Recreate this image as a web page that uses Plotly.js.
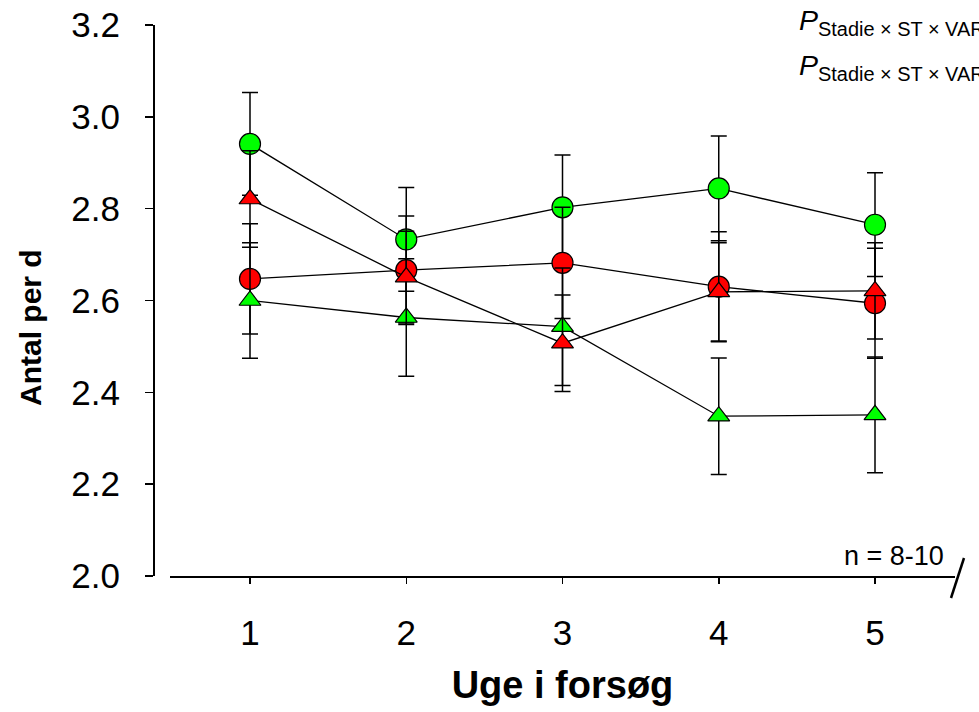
<!DOCTYPE html>
<html>
<head>
<meta charset="utf-8">
<script src="https://cdn.plot.ly/plotly-3.0.1.min.js"></script>
<style>html,body{margin:0;padding:0;background:#fff;}#chart{width:979px;height:712px;}</style>
</head>
<body>
<div id="chart"></div>
<script>
// ---- data ----
const weeks = [1, 2, 3, 4, 5];
const tickLabelsX = ["1", "2", "3", "4", "5"];
const tickValsY = [2.0, 2.2, 2.4, 2.6, 2.8, 3.0, 3.2];
const tickLabelsY = ["2.0", "2.2", "2.4", "2.6", "2.8", "3.0", "3.2"];

const greenCircle = [2.941, 2.733, 2.803, 2.844, 2.765];
const greenCircleErr = [0.112, 0.113, 0.114, 0.114, 0.113];
const redCircle = [2.647, 2.666, 2.682, 2.630, 2.594];
const redCircleErr = [0.120, 0.118, 0.121, 0.120, 0.120];
const greenTriangle = [2.600, 2.563, 2.543, 2.348, 2.351];
const greenTriangleErr = [0.126, 0.128, 0.128, 0.127, 0.126];
const redTriangle = [2.821, 2.651, 2.507, 2.619, 2.621];
const redTriangleErr = [0.105, 0.100, 0.105, 0.107, 0.105];

const FONT = "Arial, 'Liberation Sans', Helvetica, sans-serif";

function series(y, err, color, symbol, size) {
  return {
    x: weeks, y: y, type: "scatter", mode: "lines+markers",
    line: {color: "#000", width: 1.3},
    marker: {color: color, symbol: symbol, size: size, line: {color: "#000", width: 1.2}},
    error_y: {type: "data", array: err, visible: true, color: "#000", thickness: 1.5, width: 8},
    showlegend: false, hoverinfo: "x+y"
  };
}

const data = [
  series(greenCircle, greenCircleErr, "#00ff00", "circle", 21),
  series(redCircle, redCircleErr, "#ff0000", "circle", 21),
  series(greenTriangle, greenTriangleErr, "#00ff00", "triangle-up", 19),
  series(redTriangle, redTriangleErr, "#ff0000", "triangle-up", 19)
];

// pixel helpers for annotations / decorations (plot paper: x 154..955, y 25..576)
const PL = 154, PR = 955, PT = 25, PB = 576;
const px = X => (X - PL) / (PR - PL);
const py = Y => (PB - Y) / (PB - PT);

const layout = {
  width: 979, height: 712,
  margin: {l: PL, r: 979 - PR, t: PT, b: 712 - PB, pad: 0},
  paper_bgcolor: "#fff", plot_bgcolor: "#fff",
  font: {family: FONT, color: "#000"},
  xaxis: {
    domain: [16 / (PR - PL), 1],
    range: [1 - 80 / 156.25, 5 + 80 / 156.25],
    tickvals: weeks, ticktext: tickLabelsX,
    ticks: "outside", ticklen: 6, tickwidth: 1.5, tickcolor: "#000",
    ticklabelstandoff: 19,
    tickfont: {size: 35, family: FONT, color: "#000"},
    showline: true, linecolor: "#000", linewidth: 2,
    showgrid: false, zeroline: false,
    title: {text: "<b>Uge i forsøg</b>", font: {size: 38, family: FONT, color: "#000"}, standoff: 20}
  },
  yaxis: {
    anchor: "free", position: 0,
    range: [2.0, 3.2],
    tickvals: tickValsY, ticktext: tickLabelsY,
    ticks: "outside", ticklen: 8, tickwidth: 1.5, tickcolor: "#000",
    ticklabelstandoff: 18,
    tickfont: {size: 35, family: FONT, color: "#000"},
    showline: true, linecolor: "#000", linewidth: 2,
    showgrid: false, zeroline: false
  },
  annotations: [
    {xref: "paper", yref: "paper", x: px(30), y: py(328), xanchor: "center", yanchor: "middle",
     text: "<b>Antal per d</b>", textangle: -90, showarrow: false,
     font: {size: 30, family: FONT, color: "#000"}},
    {xref: "paper", yref: "paper", x: px(946), y: py(573), xanchor: "right", yanchor: "bottom",
     text: "n = 8-10", showarrow: false, font: {size: 27, family: FONT, color: "#000"}},
    {xref: "paper", yref: "paper", x: px(797), y: py(22), xanchor: "left", yanchor: "middle",
     text: "<i>P</i><sub>Stadie × ST × VAR</sub>", showarrow: false,
     font: {size: 28.5, family: FONT, color: "#000"}},
    {xref: "paper", yref: "paper", x: px(797), y: py(67), xanchor: "left", yanchor: "middle",
     text: "<i>P</i><sub>Stadie × ST × VAR</sub>", showarrow: false,
     font: {size: 28.5, family: FONT, color: "#000"}}
  ],
  shapes: [
    {type: "line", xref: "paper", yref: "paper", x0: px(951), y0: py(598), x1: px(964), y1: py(558),
     line: {color: "#000", width: 2.5}}
  ]
};

Plotly.newPlot("chart", data, layout, {displayModeBar: false, staticPlot: true});
</script>
</body>
</html>
